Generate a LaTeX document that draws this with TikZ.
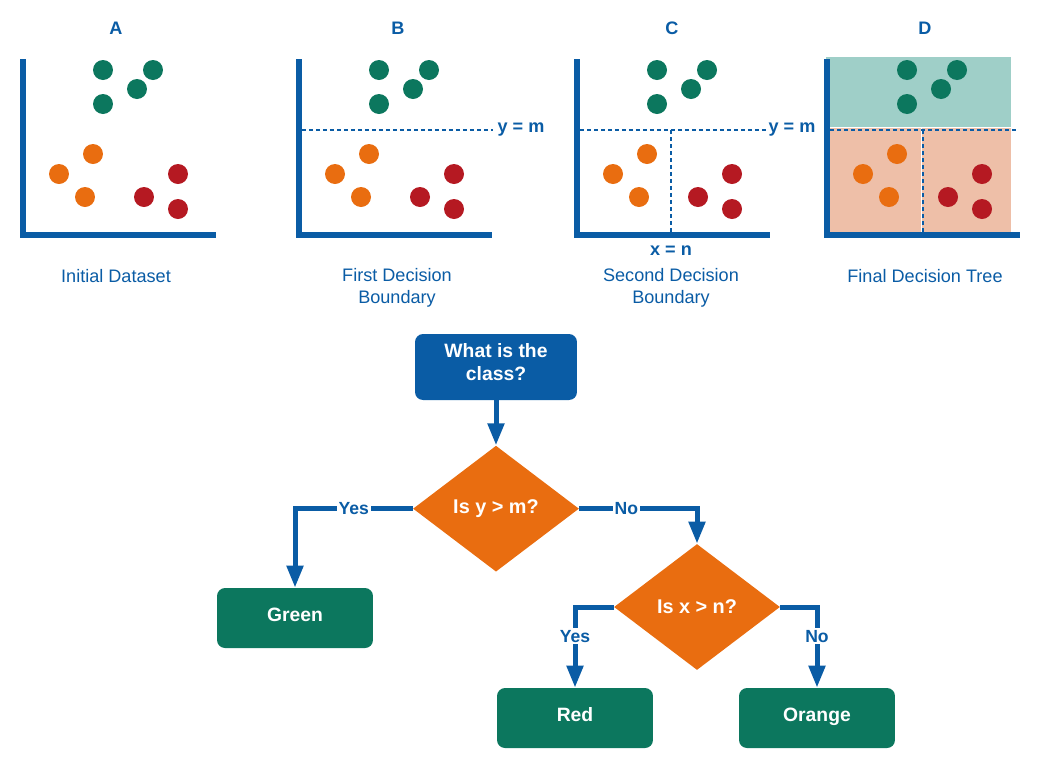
\documentclass[tikz,border=0pt]{standalone}
\usepackage{fontspec}
\setmainfont{Liberation Sans}
\usepackage{tikz}
\usetikzlibrary{positioning}
\usetikzlibrary{arrows.meta,shapes.geometric}
\definecolor{treeblue}{HTML}{0A5CA5}
\definecolor{treegreen}{HTML}{0C775E}
\definecolor{treeorange}{HTML}{E96D10}
\definecolor{treered}{HTML}{B51922}
\definecolor{tealbg}{HTML}{9FCFC8}
\definecolor{salmonbg}{HTML}{EEBFA8}
\tikzset{line/.style={draw=treeblue, line width=0.1cm, -{Triangle[length=0.44cm, width=0.32cm]}}}

\begin{document}
\begin{tikzpicture}[x=0.02cm, y=-0.02cm]
\tikzstyle{block} = [rectangle, rounded corners=0.16cm, fill=treeblue, text=white, font=\fontsize{11}{13}\selectfont\bfseries, align=center, minimum width=3.24cm, minimum height=1.32cm, text depth=0.2cm]
\tikzstyle{leaf} = [rectangle, rounded corners=0.16cm, fill=treegreen, text=white, font=\fontsize{11}{13}\selectfont\bfseries, minimum width=3.12cm, minimum height=1.2cm, text height=8pt, text depth=3.5pt]
\tikzstyle{decision} = [diamond, fill=treeorange, text=white, font=\fontsize{11.3}{13}\selectfont\bfseries, minimum width=3.32cm, minimum height=2.52cm, inner sep=0pt]
\tikzstyle{axis} = [draw=treeblue, line width=0.12cm]
\tikzstyle{split} = [draw=treeblue, line width=0.026cm, dash pattern=on 0.08cm off 0.06cm]
\tikzstyle{panel} = [text=treeblue, font=\fontsize{10.3}{12.5}\selectfont, align=center]
\tikzstyle{lab} = [text=treeblue, font=\fontsize{10.3}{12}\selectfont\bfseries]
\tikzstyle{answer} = [fill=white, text=treeblue, font=\fontsize{10}{12}\selectfont\bfseries, inner sep=1pt]

\useasboundingbox (0,0) rectangle (1038,765);

% regions of the final tree
    \fill [tealbg] (826,57) rectangle (1011,127);
    \fill [salmonbg] (826,128) rectangle (1011,232);
    \draw [white, line width=0.03cm] (921.5,128) -- (921.5,232);
% panels
    \foreach \dx/\lab/\lx in {0/A/116, 276/B/398, 554/C/672, 804/D/925} {
        \node [lab] (title \lab) at (\lx,28) {\lab};
        \draw [axis] (23+\dx,59) -- (23+\dx,235) -- (216+\dx,235);
        \foreach \px/\py in {103/70, 153/70, 137/89, 103/104}
            \fill [treegreen] (\px+\dx,\py) circle (0.2cm);
        \foreach \px/\py in {93/154, 59/174, 85/197}
            \fill [treeorange] (\px+\dx,\py) circle (0.2cm);
        \foreach \px/\py in {178/174, 144/197, 178/209}
            \fill [treered] (\px+\dx,\py) circle (0.2cm);
    }
    \node [panel] (cap A) at (116,276) {Initial Dataset};
    \node [panel] (cap B) at (397,288) {First Decision\\Boundary};
    \node [panel] (cap C) at (671,288) {Second Decision\\Boundary};
    \node [panel] (cap D) at (925,276) {Final Decision Tree};
% boundaries
    \draw [split] (302,130) -- (493,130);
    \node [lab] (ylab B) at (521,129) {y = m};
    \draw [split] (580,130) -- (767,130);
    \draw [split] (671,130) -- (671,232);
    \node [lab] (ylab C) at (792,129) {y = m};
    \node [lab] (xlab C) at (671,251) {x = n};
    \draw [split] (830,130) -- (1016,130);
    \draw [split] (923,130) -- (923,232);

% blocks
    \node [block] (class) at (496,367) {What is the\\class?};
    \node [decision, below=0.9cm of class] (ycheck) {Is y > m?};
    \node [leaf] (green) at (295,618) {Green};
    \node [decision] (xcheck) at (697,607) {Is x > n?};
    \node [leaf] (red) at (575,718) {Red};
    \node [leaf] (orange) at (817,718) {Orange};
% arrows
    \path [line] (class) -- (ycheck);
    \path [line] (ycheck.west) -| node [answer, pos=0.25] (yes1) {Yes} (green);
    \path [line] (ycheck.east) -| node [answer, pos=0.2] (no1) {No} (xcheck);
    \path [line] (xcheck.west) -| node [answer, pos=0.68] (yes2) {Yes} (red);
    \path [line] (xcheck.east) -| node [answer, pos=0.68] (no2) {No} (orange);
\end{tikzpicture}
\end{document}
